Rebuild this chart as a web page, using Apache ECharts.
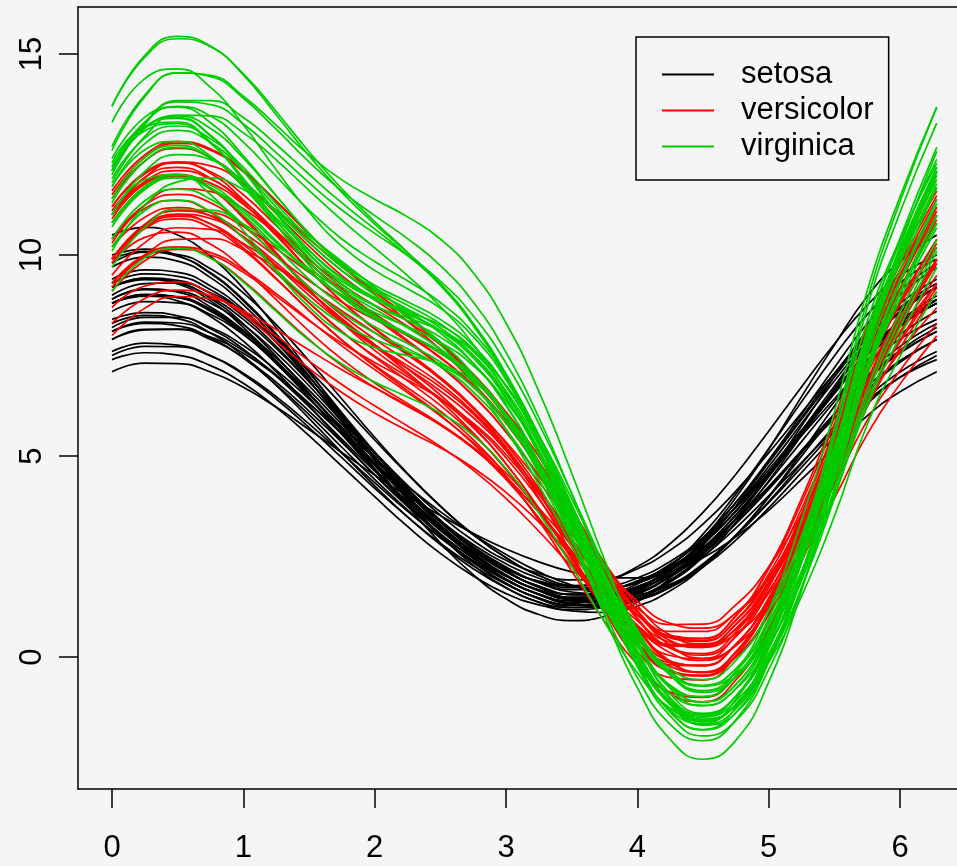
<!doctype html>
<html>
<head>
<meta charset="UTF-8">
<title>Andrews curves - iris</title>
<script src="https://cdn.jsdelivr.net/npm/echarts@6/dist/echarts.min.js"></script>
<style>
html, body { margin: 0; padding: 0; background: #f5f5f5; }
#chart { width: 957px; height: 866px; }
</style>
</head>
<body>
<div id="chart"></div>
<script>
// t positions where each curve was read: main points and the in-between points
var tMain = [0, 0.5, 1, 1.5, 2, 2.5, 3, 3.5, 4, 4.5, 5, 5.5, 6, 6.28];
var tMid = [0.25, 0.75, 1.25, 1.75, 2.25, 2.75, 3.25, 3.75, 4.25, 4.75, 5.25, 5.75];
var xTicks = [0, 1, 2, 3, 4, 5, 6];
var yTicks = [0, 5, 10, 15];
var species = ['setosa', 'versicolor', 'virginica'];
var speciesColors = ['#000000', '#ff0000', '#00cd00'];

var setosa = [
	[8.80, 8.95, 8.09, 6.55, 4.79, 3.19, 2.02, 1.48, 1.72, 2.81, 4.58, 6.59, 8.24, 8.80],
	[8.10, 8.31, 7.62, 6.31, 4.79, 3.39, 2.32, 1.75, 1.85, 2.72, 4.24, 6.04, 7.56, 8.10],
	[8.10, 8.24, 7.44, 6.03, 4.42, 2.97, 1.91, 1.40, 1.60, 2.57, 4.19, 6.05, 7.58, 8.10],
	[7.90, 8.15, 7.45, 6.12, 4.54, 3.07, 1.94, 1.32, 1.41, 2.30, 3.87, 5.74, 7.33, 7.90],
	[8.80, 8.94, 8.04, 6.45, 4.64, 3.01, 1.83, 1.29, 1.56, 2.69, 4.51, 6.56, 8.24, 8.80],
	[9.70, 9.85, 8.77, 6.98, 5.06, 3.41, 2.16, 1.45, 1.51, 2.55, 4.54, 6.97, 9.01, 9.69],
	[7.50, 7.72, 7.06, 5.80, 4.34, 2.97, 1.92, 1.34, 1.42, 2.24, 3.71, 5.47, 6.96, 7.50],
	[9.30, 9.47, 8.58, 6.96, 5.09, 3.39, 2.14, 1.56, 1.82, 2.97, 4.84, 6.97, 8.70, 9.30],
	[7.90, 8.16, 7.56, 6.31, 4.76, 3.26, 2.12, 1.57, 1.76, 2.71, 4.23, 5.94, 7.37, 7.90],
	[7.40, 7.51, 6.81, 5.51, 3.99, 2.58, 1.58, 1.18, 1.49, 2.50, 4.01, 5.65, 6.96, 7.40],
	[10.00, 9.99, 8.89, 7.08, 5.10, 3.37, 2.20, 1.78, 2.25, 3.60, 5.62, 7.79, 9.48, 10.00],
	[10.50, 10.50, 9.17, 7.11, 4.97, 3.19, 1.94, 1.36, 1.63, 2.94, 5.17, 7.76, 9.84, 10.50],
	[9.80, 10.01, 9.06, 7.37, 5.47, 3.76, 2.47, 1.77, 1.89, 2.96, 4.90, 7.20, 9.13, 9.79],
	[7.10, 7.30, 6.71, 5.66, 4.53, 3.52, 2.69, 2.12, 1.97, 2.47, 3.65, 5.21, 6.60, 7.10],
	[9.90, 9.97, 8.86, 7.00, 4.89, 3.03, 1.73, 1.23, 1.67, 3.06, 5.18, 7.49, 9.31, 9.90],
	[9.40, 9.57, 8.64, 6.89, 4.79, 2.84, 1.45, 0.91, 1.37, 2.78, 4.84, 7.05, 8.80, 9.40],
	[8.60, 8.81, 8.02, 6.54, 4.82, 3.23, 2.04, 1.44, 1.61, 2.64, 4.36, 6.35, 8.02, 8.60],
	[9.20, 9.32, 8.29, 6.57, 4.69, 3.04, 1.84, 1.24, 1.44, 2.56, 4.49, 6.74, 8.58, 9.20],
	[8.30, 8.42, 7.49, 5.94, 4.26, 2.80, 1.72, 1.15, 1.27, 2.24, 3.97, 6.02, 7.73, 8.30],
	[8.90, 9.08, 8.11, 6.53, 4.95, 3.62, 2.55, 1.79, 1.58, 2.29, 3.99, 6.24, 8.22, 8.89],
	[9.00, 9.31, 8.59, 7.14, 5.40, 3.75, 2.47, 1.77, 1.86, 2.84, 4.57, 6.61, 8.36, 8.99],
	[9.20, 9.28, 8.20, 6.46, 4.66, 3.15, 2.03, 1.41, 1.49, 2.49, 4.38, 6.67, 8.57, 9.20],
	[8.90, 9.10, 8.27, 6.75, 4.98, 3.35, 2.14, 1.55, 1.75, 2.81, 4.59, 6.62, 8.31, 8.90],
	[8.80, 8.96, 8.13, 6.64, 4.93, 3.37, 2.22, 1.68, 1.89, 2.93, 4.66, 6.62, 8.24, 8.80],
	[8.20, 8.45, 7.75, 6.42, 4.84, 3.37, 2.24, 1.62, 1.71, 2.60, 4.17, 6.04, 7.63, 8.20],
	[8.40, 8.49, 7.66, 6.23, 4.63, 3.21, 2.19, 1.73, 1.97, 2.97, 4.59, 6.42, 7.91, 8.40],
	[9.20, 9.30, 8.40, 6.85, 5.10, 3.53, 2.41, 1.92, 2.20, 3.31, 5.08, 7.06, 8.67, 9.20],
	[7.60, 7.76, 7.03, 5.71, 4.20, 2.83, 1.81, 1.29, 1.43, 2.32, 3.84, 5.61, 7.09, 7.60],
	[8.80, 8.86, 7.86, 6.25, 4.53, 3.06, 2.01, 1.49, 1.68, 2.72, 4.49, 6.56, 8.25, 8.80],
	[9.20, 9.37, 8.48, 6.86, 4.99, 3.29, 2.04, 1.46, 1.72, 2.87, 4.74, 6.87, 8.60, 9.20]
];
var setosaMid = [
	[9.01, 8.63, 7.37, 5.67, 3.95, 2.54, 1.67, 1.50, 2.17, 3.63, 5.60, 7.52],
	[8.33, 8.06, 7.02, 5.56, 4.06, 2.80, 1.96, 1.71, 2.19, 3.42, 5.14, 6.89],
	[8.30, 7.94, 6.78, 5.22, 3.66, 2.38, 1.57, 1.40, 1.99, 3.32, 5.13, 6.91],
	[8.15, 7.90, 6.84, 5.34, 3.78, 2.45, 1.55, 1.27, 1.75, 3.02, 4.81, 6.63],
	[9.01, 8.60, 7.30, 5.55, 3.79, 2.35, 1.47, 1.32, 2.02, 3.54, 5.55, 7.51],
	[9.95, 9.44, 7.92, 6.00, 4.19, 2.73, 1.73, 1.37, 1.90, 3.45, 5.75, 8.13],
	[7.73, 7.49, 6.48, 5.07, 3.63, 2.40, 1.56, 1.29, 1.73, 2.91, 4.59, 6.30],
	[9.53, 9.14, 7.83, 6.03, 4.20, 2.70, 1.76, 1.58, 2.29, 3.84, 5.91, 7.94],
	[8.14, 7.96, 7.00, 5.55, 3.98, 2.63, 1.77, 1.57, 2.15, 3.41, 5.09, 6.73],
	[7.57, 7.25, 6.21, 4.75, 3.25, 2.02, 1.30, 1.24, 1.92, 3.21, 4.84, 6.38],
	[10.15, 9.56, 8.04, 6.08, 4.18, 2.70, 1.89, 1.90, 2.82, 4.55, 6.72, 8.75],
	[10.69, 9.97, 8.19, 6.02, 4.02, 2.49, 1.56, 1.37, 2.15, 3.97, 6.48, 8.97],
	[10.07, 9.66, 8.27, 6.42, 4.57, 3.05, 2.03, 1.71, 2.30, 3.85, 6.04, 8.29],
	[7.31, 7.09, 6.22, 5.09, 4.00, 3.08, 2.37, 1.97, 2.13, 2.99, 4.42, 6.00],
	[10.09, 9.54, 7.99, 5.94, 3.91, 2.29, 1.37, 1.32, 2.25, 4.06, 6.35, 8.52],
	[9.63, 9.23, 7.84, 5.85, 3.77, 2.05, 1.06, 1.01, 1.97, 3.76, 5.96, 8.03],
	[8.84, 8.52, 7.34, 5.68, 3.99, 2.57, 1.65, 1.42, 2.02, 3.43, 5.36, 7.29],
	[9.42, 8.92, 7.48, 5.62, 3.82, 2.37, 1.45, 1.23, 1.88, 3.45, 5.62, 7.79],
	[8.50, 8.06, 6.76, 5.09, 3.49, 2.20, 1.36, 1.11, 1.65, 3.03, 5.00, 6.99],
	[9.16, 8.71, 7.35, 5.72, 4.25, 3.05, 2.12, 1.59, 1.81, 3.03, 5.09, 7.38],
	[9.29, 9.06, 7.93, 6.28, 4.55, 3.05, 2.03, 1.71, 2.24, 3.63, 5.59, 7.58],
	[9.41, 8.86, 7.37, 5.54, 3.86, 2.54, 1.65, 1.35, 1.87, 3.34, 5.52, 7.76],
	[9.14, 8.80, 7.57, 5.87, 4.13, 2.68, 1.75, 1.54, 2.18, 3.63, 5.61, 7.57],
	[9.02, 8.66, 7.44, 5.79, 4.11, 2.73, 1.86, 1.68, 2.31, 3.73, 5.64, 7.54],
	[8.45, 8.20, 7.14, 5.64, 4.08, 2.75, 1.85, 1.57, 2.05, 3.32, 5.11, 6.93],
	[8.57, 8.17, 6.99, 5.42, 3.88, 2.64, 1.88, 1.76, 2.38, 3.72, 5.51, 7.27],
	[9.39, 8.96, 7.68, 5.97, 4.27, 2.90, 2.08, 1.95, 2.66, 4.13, 6.08, 7.97],
	[7.81, 7.50, 6.42, 4.96, 3.49, 2.27, 1.47, 1.26, 1.78, 3.02, 4.72, 6.44],
	[8.98, 8.47, 7.10, 5.37, 3.75, 2.47, 1.67, 1.49, 2.09, 3.53, 5.53, 7.53],
	[9.43, 9.04, 7.73, 5.93, 4.10, 2.60, 1.66, 1.48, 2.19, 3.74, 5.81, 7.84]
];

var versicolor = [
	[11.60, 12.82, 12.10, 10.53, 9.03, 7.65, 5.84, 3.41, 1.15, 0.46, 2.23, 5.96, 9.94, 11.59],
	[11.10, 12.18, 11.29, 9.63, 8.18, 6.96, 5.31, 2.96, 0.68, -0.04, 1.73, 5.50, 9.48, 11.09],
	[11.50, 12.78, 12.07, 10.52, 9.09, 7.78, 5.96, 3.41, 0.95, 0.09, 1.82, 5.65, 9.77, 11.48],
	[9.10, 10.14, 9.57, 8.37, 7.33, 6.42, 5.04, 2.92, 0.78, -0.08, 1.23, 4.31, 7.69, 9.09],
	[10.80, 11.97, 11.26, 9.80, 8.54, 7.44, 5.82, 3.40, 0.97, 0.05, 1.62, 5.25, 9.17, 10.79],
	[9.80, 11.02, 10.46, 9.10, 7.78, 6.52, 4.81, 2.48, 0.28, -0.47, 1.09, 4.52, 8.23, 9.79],
	[11.20, 12.31, 11.37, 9.64, 8.16, 6.92, 5.23, 2.77, 0.35, -0.45, 1.39, 5.33, 9.51, 11.19],
	[8.30, 9.13, 8.56, 7.37, 6.25, 5.24, 3.95, 2.25, 0.69, 0.26, 1.58, 4.28, 7.13, 8.29],
	[9.30, 10.20, 9.36, 7.90, 6.71, 5.77, 4.42, 2.36, 0.28, -0.46, 1.05, 4.37, 7.88, 9.29],
	[8.00, 8.97, 8.61, 7.64, 6.70, 5.78, 4.47, 2.65, 0.90, 0.25, 1.37, 3.95, 6.79, 7.99],
	[10.40, 11.36, 10.43, 8.82, 7.49, 6.44, 4.96, 2.75, 0.54, -0.21, 1.47, 5.07, 8.87, 10.39],
	[9.20, 10.39, 10.14, 9.16, 8.07, 6.92, 5.35, 3.29, 1.39, 0.72, 1.95, 4.74, 7.84, 9.19],
	[9.80, 10.57, 9.66, 8.11, 6.82, 5.80, 4.49, 2.60, 0.79, 0.29, 1.88, 5.12, 8.48, 9.79],
	[11.20, 12.29, 11.50, 9.92, 8.50, 7.25, 5.60, 3.31, 1.14, 0.47, 2.19, 5.80, 9.63, 11.19],
	[9.50, 10.68, 10.29, 9.09, 7.75, 6.38, 4.67, 2.59, 0.79, 0.31, 1.80, 4.82, 8.09, 9.49],
	[9.90, 11.10, 10.55, 9.36, 8.40, 7.56, 6.10, 3.69, 1.14, -0.03, 1.25, 4.59, 8.32, 9.89],
	[10.90, 11.98, 10.92, 9.13, 7.76, 6.72, 5.14, 2.58, -0.09, -1.11, 0.70, 4.79, 9.15, 10.88],
	[11.00, 12.01, 10.96, 9.15, 7.63, 6.42, 4.81, 2.44, 0.14, -0.57, 1.31, 5.24, 9.36, 10.99],
	[8.70, 9.33, 8.52, 7.18, 6.07, 5.21, 4.10, 2.54, 1.04, 0.64, 2.01, 4.76, 7.59, 8.69],
	[9.30, 10.20, 9.63, 8.39, 7.15, 6.00, 4.58, 2.79, 1.21, 0.82, 2.24, 5.08, 8.06, 9.29],
	[10.20, 11.18, 10.44, 9.00, 7.72, 6.62, 5.14, 3.06, 1.05, 0.42, 1.97, 5.27, 8.77, 10.19],
	[10.30, 11.65, 11.15, 9.88, 8.74, 7.66, 5.96, 3.37, 0.74, -0.38, 1.05, 4.62, 8.60, 10.29],
	[11.00, 12.10, 11.34, 9.82, 8.44, 7.23, 5.60, 3.30, 1.11, 0.39, 2.06, 5.63, 9.43, 10.99],
	[11.00, 12.31, 11.77, 10.40, 9.09, 7.83, 6.05, 3.55, 1.13, 0.24, 1.82, 5.40, 9.33, 10.99],
	[11.40, 12.65, 11.82, 10.22, 8.89, 7.77, 6.07, 3.42, 0.71, -0.37, 1.33, 5.31, 9.62, 11.39],
	[10.40, 11.51, 10.73, 9.21, 7.91, 6.80, 5.20, 2.84, 0.48, -0.38, 1.25, 4.89, 8.79, 10.39],
	[9.90, 11.00, 10.18, 8.62, 7.26, 6.12, 4.51, 2.14, -0.19, -1.00, 0.68, 4.36, 8.29, 9.89],
	[9.90, 11.13, 10.71, 9.57, 8.49, 7.46, 5.89, 3.58, 1.28, 0.33, 1.64, 4.83, 8.38, 9.89],
	[9.90, 10.90, 10.13, 8.62, 7.23, 6.02, 4.46, 2.33, 0.35, -0.22, 1.43, 4.84, 8.43, 9.89],
	[9.90, 10.96, 10.26, 8.81, 7.46, 6.26, 4.67, 2.49, 0.44, -0.20, 1.41, 4.80, 8.41, 9.89]
];
var versicolorMid = [
	[12.49, 12.64, 11.35, 9.74, 8.35, 6.83, 4.68, 2.17, 0.52, 1.03, 3.94, 8.20],
	[11.93, 11.91, 10.48, 8.85, 7.58, 6.22, 4.20, 1.72, 0.04, 0.53, 3.46, 7.76],
	[12.43, 12.61, 11.33, 9.77, 8.45, 6.97, 4.75, 2.08, 0.23, 0.62, 3.57, 7.97],
	[9.86, 10.00, 8.98, 7.81, 6.89, 5.82, 4.05, 1.78, 0.11, 0.29, 2.62, 6.22],
	[11.67, 11.79, 10.55, 9.12, 8.00, 6.73, 4.68, 2.09, 0.23, 0.51, 3.27, 7.47],
	[10.67, 10.91, 9.81, 8.41, 7.17, 5.75, 3.70, 1.28, -0.36, 0.01, 2.65, 6.60],
	[12.06, 12.03, 10.52, 8.84, 7.55, 6.18, 4.07, 1.46, -0.34, 0.13, 3.19, 7.71],
	[8.92, 8.98, 7.99, 6.78, 5.75, 4.65, 3.13, 1.39, 0.27, 0.70, 2.82, 5.89],
	[10.01, 9.93, 8.63, 7.25, 6.24, 5.19, 3.46, 1.24, -0.34, 0.01, 2.57, 6.38],
	[8.68, 8.92, 8.15, 7.15, 6.26, 5.20, 3.61, 1.71, 0.37, 0.58, 2.54, 5.54],
	[11.16, 11.06, 9.63, 8.09, 6.97, 5.79, 3.93, 1.56, -0.10, 0.32, 3.12, 7.24],
	[10.00, 10.41, 9.69, 8.61, 7.52, 6.20, 4.36, 2.26, 0.84, 1.09, 3.22, 6.46],
	[10.44, 10.27, 8.89, 7.41, 6.31, 5.22, 3.60, 1.61, 0.30, 0.82, 3.38, 7.04],
	[12.02, 12.07, 10.73, 9.17, 7.88, 6.51, 4.51, 2.13, 0.54, 1.02, 3.84, 7.97],
	[10.31, 10.64, 9.74, 8.42, 7.08, 5.58, 3.65, 1.59, 0.32, 0.81, 3.19, 6.64],
	[10.76, 10.98, 9.96, 8.83, 8.00, 6.95, 4.99, 2.34, 0.29, 0.29, 2.75, 6.70],
	[11.77, 11.64, 10.02, 8.37, 7.25, 6.05, 3.96, 1.15, -0.91, -0.57, 2.56, 7.29],
	[11.81, 11.67, 10.06, 8.32, 7.03, 5.71, 3.70, 1.19, -0.51, 0.04, 3.12, 7.59],
	[9.23, 9.05, 7.85, 6.58, 5.63, 4.71, 3.36, 1.71, 0.64, 1.10, 3.28, 6.38],
	[9.96, 10.06, 9.04, 7.74, 6.58, 5.34, 3.71, 1.91, 0.81, 1.30, 3.55, 6.76],
	[10.94, 10.97, 9.74, 8.32, 7.18, 5.96, 4.15, 1.97, 0.49, 0.91, 3.48, 7.25],
	[11.25, 11.58, 10.54, 9.27, 8.23, 6.92, 4.75, 1.97, -0.10, 0.00, 2.66, 6.85],
	[11.83, 11.89, 10.60, 9.08, 7.84, 6.50, 4.51, 2.11, 0.48, 0.92, 3.69, 7.78],
	[11.93, 12.22, 11.12, 9.71, 8.48, 7.04, 4.87, 2.24, 0.41, 0.71, 3.45, 7.60],
	[12.34, 12.42, 11.03, 9.49, 8.35, 7.04, 4.84, 1.97, -0.14, 0.12, 3.13, 7.75],
	[11.24, 11.30, 9.98, 8.51, 7.36, 6.10, 4.10, 1.57, -0.23, 0.12, 2.91, 7.10],
	[10.74, 10.77, 9.42, 7.89, 6.70, 5.41, 3.40, 0.89, -0.87, -0.48, 2.36, 6.59],
	[10.76, 11.07, 10.16, 9.00, 8.01, 6.77, 4.81, 2.35, 0.55, 0.69, 3.08, 6.82],
	[10.66, 10.68, 9.40, 7.88, 6.63, 5.31, 3.44, 1.25, -0.19, 0.32, 3.00, 6.87],
	[10.69, 10.78, 9.56, 8.10, 6.87, 5.54, 3.63, 1.37, -0.14, 0.32, 2.96, 6.84]
];

var virginica = [
	[12.10, 13.42, 12.09, 10.04, 8.75, 7.96, 6.28, 2.99, -0.76, -2.54, -0.62, 4.42, 9.90, 12.08],
	[10.40, 11.64, 10.76, 9.20, 8.07, 7.23, 5.67, 2.91, -0.10, -1.49, 0.08, 4.12, 8.57, 10.38],
	[12.20, 13.70, 12.81, 11.12, 9.84, 8.82, 6.98, 3.80, 0.37, -1.21, 0.53, 5.07, 10.11, 12.18],
	[11.00, 12.50, 11.83, 10.31, 9.01, 7.84, 5.95, 2.98, -0.10, -1.43, 0.24, 4.41, 9.04, 10.98],
	[11.70, 13.10, 12.09, 10.32, 9.09, 8.19, 6.46, 3.31, -0.17, -1.81, -0.06, 4.54, 9.62, 11.68],
	[12.70, 14.53, 13.90, 12.32, 10.98, 9.74, 7.58, 4.06, 0.34, -1.40, 0.36, 5.08, 10.41, 12.68],
	[9.10, 10.17, 9.33, 7.88, 6.84, 6.07, 4.69, 2.26, -0.39, -1.58, -0.13, 3.50, 7.48, 9.09],
	[12.00, 13.84, 13.42, 12.01, 10.65, 9.26, 7.05, 3.73, 0.38, -1.11, 0.57, 4.92, 9.84, 11.98],
	[13.30, 14.63, 13.24, 11.07, 9.62, 8.68, 6.90, 3.57, -0.13, -1.80, 0.27, 5.46, 11.06, 13.28],
	[11.70, 12.83, 11.69, 9.83, 8.50, 7.56, 5.97, 3.22, 0.26, -0.98, 0.84, 5.18, 9.84, 11.68],
	[11.90, 13.21, 12.18, 10.42, 9.18, 8.29, 6.62, 3.64, 0.37, -1.12, 0.62, 5.06, 9.92, 11.88],
	[10.20, 11.37, 10.43, 8.89, 7.90, 7.26, 5.85, 3.11, -0.01, -1.54, -0.06, 3.95, 8.39, 10.19],
	[11.00, 12.00, 10.61, 8.71, 7.70, 7.29, 6.05, 3.20, -0.24, -1.96, -0.31, 4.20, 9.09, 10.99],
	[13.70, 15.44, 14.48, 12.47, 10.77, 9.29, 7.00, 3.45, -0.18, -1.65, 0.51, 5.68, 11.33, 13.68],
	[12.60, 14.53, 13.95, 12.49, 11.39, 10.40, 8.31, 4.58, 0.44, -1.69, -0.11, 4.69, 10.21, 12.58],
	[9.70, 11.14, 10.77, 9.66, 8.65, 7.66, 5.97, 3.32, 0.56, -0.72, 0.57, 4.04, 7.98, 9.69],
	[12.40, 13.68, 12.47, 10.54, 9.25, 8.40, 6.74, 3.64, 0.16, -1.44, 0.41, 5.16, 10.32, 12.38],
	[13.70, 15.38, 14.51, 12.57, 10.83, 9.25, 6.96, 3.60, 0.28, -0.98, 1.16, 6.09, 11.45, 13.68],
	[10.10, 11.82, 11.63, 10.48, 9.20, 7.77, 5.66, 2.76, -0.04, -1.20, 0.29, 4.00, 8.21, 10.09],
	[11.40, 12.73, 11.71, 10.01, 8.89, 8.13, 6.53, 3.47, 0.01, -1.67, -0.02, 4.44, 9.38, 11.38],
	[10.80, 11.99, 11.13, 9.60, 8.46, 7.58, 6.05, 3.41, 0.57, -0.70, 0.86, 4.76, 9.04, 10.79],
	[12.10, 13.46, 12.41, 10.54, 9.14, 8.06, 6.25, 3.19, -0.08, -1.48, 0.41, 5.03, 10.05, 12.08],
	[10.80, 11.93, 11.00, 9.40, 8.22, 7.34, 5.83, 3.25, 0.48, -0.72, 0.88, 4.81, 9.07, 10.79],
	[11.30, 12.68, 11.75, 10.11, 8.95, 8.11, 6.43, 3.40, 0.03, -1.58, 0.06, 4.44, 9.30, 11.28],
	[11.80, 13.48, 13.04, 11.61, 10.18, 8.72, 6.58, 3.56, 0.62, -0.56, 1.15, 5.24, 9.81, 11.78],
	[12.10, 13.81, 13.26, 11.80, 10.54, 9.35, 7.31, 4.07, 0.68, -0.88, 0.75, 5.09, 9.99, 12.08],
	[12.10, 13.27, 11.85, 9.75, 8.41, 7.61, 6.03, 2.96, -0.51, -2.08, -0.12, 4.77, 10.03, 12.08],
	[12.20, 13.40, 12.09, 10.13, 8.93, 8.25, 6.73, 3.64, 0.09, -1.61, 0.20, 4.96, 10.14, 12.18],
	[12.30, 13.31, 11.91, 9.93, 8.74, 8.12, 6.76, 3.94, 0.68, -0.83, 0.96, 5.51, 10.39, 12.28],
	[10.70, 11.92, 11.07, 9.58, 8.57, 7.83, 6.36, 3.64, 0.61, -0.85, 0.62, 4.55, 8.91, 10.68]
];
var virginicaMid = [
	[13.18, 12.98, 11.03, 9.28, 8.37, 7.31, 4.81, 1.03, -2.05, -2.07, 1.65, 7.58],
	[11.35, 11.39, 9.97, 8.56, 7.67, 6.60, 4.42, 1.33, -1.11, -1.09, 1.90, 6.66],
	[13.31, 13.46, 11.96, 10.40, 9.36, 8.07, 5.53, 1.99, -0.78, -0.78, 2.57, 7.93],
	[12.08, 12.37, 11.09, 9.61, 8.46, 7.03, 4.57, 1.34, -1.09, -0.98, 2.12, 7.02],
	[12.77, 12.80, 11.19, 9.61, 8.66, 7.50, 5.04, 1.49, -1.35, -1.38, 2.01, 7.45],
	[13.98, 14.44, 13.13, 11.59, 10.41, 8.83, 5.96, 2.09, -0.91, -0.98, 2.47, 8.08],
	[9.93, 9.92, 8.60, 7.29, 6.47, 5.51, 3.59, 0.87, -1.27, -1.20, 1.51, 5.78],
	[13.25, 13.84, 12.75, 11.30, 10.00, 8.30, 5.49, 1.94, -0.72, -0.68, 2.52, 7.67],
	[14.39, 14.17, 12.12, 10.22, 9.16, 7.97, 5.40, 1.63, -1.37, -1.25, 2.62, 8.69],
	[12.62, 12.46, 10.75, 9.08, 8.04, 6.91, 4.72, 1.65, -0.70, -0.47, 2.81, 7.85],
	[12.91, 12.89, 11.28, 9.71, 8.75, 7.61, 5.27, 1.92, -0.73, -0.68, 2.61, 7.84],
	[11.11, 11.08, 9.63, 8.30, 7.60, 6.72, 4.63, 1.48, -1.09, -1.20, 1.73, 6.50],
	[11.88, 11.50, 9.60, 8.07, 7.50, 6.86, 4.81, 1.42, -1.46, -1.58, 1.71, 7.05],
	[14.97, 15.20, 13.49, 11.56, 10.06, 8.30, 5.35, 1.52, -1.32, -1.05, 2.85, 8.88],
	[13.94, 14.47, 13.23, 11.87, 10.95, 9.56, 6.61, 2.42, -1.02, -1.39, 2.01, 7.80],
	[10.69, 11.12, 10.24, 9.12, 8.19, 6.94, 4.74, 1.86, -0.36, -0.41, 2.12, 6.25],
	[13.43, 13.29, 11.48, 9.79, 8.84, 7.75, 5.35, 1.81, -1.02, -0.97, 2.55, 8.13],
	[14.92, 15.18, 13.57, 11.65, 10.07, 8.25, 5.38, 1.82, -0.73, -0.35, 3.40, 9.11],
	[11.23, 11.92, 11.11, 9.84, 8.53, 6.83, 4.28, 1.25, -0.92, -0.79, 1.96, 6.33],
	[12.43, 12.42, 10.84, 9.35, 8.53, 7.51, 5.16, 1.66, -1.19, -1.29, 1.98, 7.27],
	[11.71, 11.74, 10.36, 8.96, 8.04, 6.95, 4.84, 1.91, -0.37, -0.29, 2.62, 7.21],
	[13.15, 13.15, 11.47, 9.75, 8.62, 7.31, 4.85, 1.46, -1.14, -0.97, 2.50, 7.89],
	[11.68, 11.65, 10.20, 8.74, 7.80, 6.72, 4.66, 1.78, -0.43, -0.29, 2.66, 7.24],
	[12.34, 12.41, 10.92, 9.44, 8.56, 7.44, 5.06, 1.63, -1.13, -1.19, 2.03, 7.21],
	[12.95, 13.46, 12.37, 10.87, 9.49, 7.78, 5.15, 1.98, -0.29, -0.08, 2.99, 7.79],
	[13.29, 13.74, 12.55, 11.12, 9.99, 8.49, 5.81, 2.27, -0.45, -0.49, 2.69, 7.84],
	[13.09, 12.78, 10.76, 8.96, 8.02, 7.00, 4.66, 1.14, -1.67, -1.56, 2.09, 7.81],
	[13.20, 12.96, 11.07, 9.41, 8.60, 7.67, 5.36, 1.79, -1.14, -1.17, 2.34, 7.95],
	[13.18, 12.81, 10.87, 9.21, 8.44, 7.61, 5.51, 2.24, -0.43, -0.37, 3.01, 8.35],
	[11.63, 11.67, 10.31, 9.00, 8.22, 7.25, 5.13, 2.05, -0.43, -0.50, 2.38, 7.04]
];

// join main and in-between readings of one curve, ordered by t
function curvePoints(main, mid) {
	var pts = [];
	main.forEach(function(y, i) { pts.push([tMain[i], y]); });
	mid.forEach(function(y, i) { pts.push([tMid[i], y]); });
	pts.sort(function(a, b) { return a[0] - b[0]; });
	return pts;
}

var groups = [[setosa, setosaMid], [versicolor, versicolorMid], [virginica, virginicaMid]];
var series = [];
groups.forEach(function(grp, g) {
	grp[0].forEach(function(main, k) {
		series.push({
			name: species[g],
			type: 'line',
			smooth: true,
			symbol: 'none',
			silent: true,
			lineStyle: { color: speciesColors[g], width: 1.7 },
			itemStyle: { color: speciesColors[g] },
			data: curvePoints(main, grp[1][k])
		});
	});
});

var font = 'Liberation Sans, Arial, sans-serif';
var boxLine = { show: true, onZero: false, lineStyle: { color: '#000', width: 1.5 } };
var chart = echarts.init(document.getElementById('chart'));
chart.setOption({
	animation: false,
	backgroundColor: '#f5f5f5',
	grid: { left: 78, right: 0, top: 7, bottom: 77 },
	legend: {
		data: species,
		orient: 'vertical',
		left: 636, top: 37,
		padding: [22, 15, 18, 26],
		itemGap: 5,
		itemWidth: 52, itemHeight: 2,
		icon: 'rect',
		borderColor: '#000', borderWidth: 1.5,
		selectedMode: false,
		textStyle: { fontSize: 31, fontFamily: font, color: '#000', padding: [0, 0, 0, 22] }
	},
	xAxis: [{
		type: 'value',
		min: -0.259, max: 6.434,
		splitLine: { show: false },
		axisLine: boxLine,
		axisTick: { show: true, length: 19, customValues: xTicks, lineStyle: { color: '#000', width: 1.5 } },
		axisLabel: { customValues: xTicks, margin: 44, fontSize: 31, fontFamily: font, color: '#000' }
	}, {
		type: 'value',
		position: 'top',
		min: -0.259, max: 6.434,
		splitLine: { show: false },
		axisLine: boxLine,
		axisTick: { show: false },
		axisLabel: { show: false }
	}],
	yAxis: {
		type: 'value',
		min: -3.28, max: 16.17,
		splitLine: { show: false },
		axisLine: boxLine,
		axisTick: { show: true, length: 19, customValues: yTicks, lineStyle: { color: '#000', width: 1.5 } },
		axisLabel: { customValues: yTicks, rotate: 90, margin: 30, fontSize: 31, fontFamily: font, color: '#000' }
	},
	series: series
});
</script>
</body>
</html>
